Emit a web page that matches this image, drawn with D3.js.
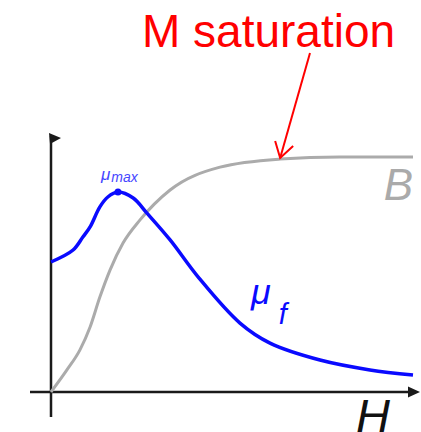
<!DOCTYPE html>
<html>
<head>
<meta charset="utf-8">
<script src="https://cdn.jsdelivr.net/npm/d3@7"></script>
<style>
  html, body { margin: 0; padding: 0; background: #fff; }
  svg { display: block; font-family: "Liberation Sans", Arial, sans-serif; }
</style>
</head>
<body>
<div id="chart"></div>
<script>
// ── Data (arbitrary units) ───────────────────────────────────────────────────
const hB   = [0, 0.44, 0.80, 1.08, 1.35, 1.63, 1.99, 2.46, 3.29, 4.67, 6.33, 7.98, 10];
const bVal = [0, 0.85, 1.62, 2.50, 3.65, 4.69, 5.73, 6.62, 7.77, 8.65, 8.96, 9.04, 9.04];

const hMu   = [0, 0.61, 0.88, 1.08, 1.35, 1.57, 1.85, 2.27, 2.65, 3.29, 4.09, 5.22, 6.05, 7.43, 8.81, 10];
const muVal = [5.0, 5.46, 5.96, 6.35, 7.12, 7.5, 7.69, 7.46, 6.88, 5.85, 4.38, 2.65, 1.88, 1.23, 0.85, 0.65];

const muMax = { h: 1.85, v: 7.69 };
const satPoint = { h: 6.33, v: 8.96 };

// ── Layout ────────────────────────────────────────────────────────────────────
const W = 421, H = 432;
const x = d3.scaleLinear().domain([0, 10]).range([51, 413]);
const y = d3.scaleLinear().domain([0, 10]).range([392, 132]);

const svg = d3.select('#chart').append('svg')
  .attr('width', W)
  .attr('height', H);

// ── Axes ──────────────────────────────────────────────────────────────────────
const axisColor = '#1a1a1a';
svg.append('line')
  .attr('x1', 30).attr('x2', 412)
  .attr('y1', y(0)).attr('y2', y(0))
  .attr('stroke', axisColor).attr('stroke-width', 2.5);
svg.append('path')
  .attr('d', `M${408},${y(0) - 5.5} L${420},${y(0)} L${408},${y(0) + 5.5} Z`)
  .attr('fill', axisColor);

svg.append('line')
  .attr('x1', x(0)).attr('x2', x(0))
  .attr('y1', 417).attr('y2', 136)
  .attr('stroke', axisColor).attr('stroke-width', 2.5);
svg.append('path')
  .attr('d', `M${x(0) - 2},${133} L${61},${138} L${x(0) - 1},${144} Z`)
  .attr('fill', axisColor);

// ── Curves ────────────────────────────────────────────────────────────────────
const lineB = d3.line()
  .x(d => x(d[0]))
  .y(d => y(d[1]))
  .curve(d3.curveMonotoneX);

const lineMu = d3.line()
  .x(d => x(d[0]))
  .y(d => y(d[1]))
  .curve(d3.curveCatmullRom.alpha(0.5));

svg.append('path')
  .datum(hB.map((h, i) => [h, bVal[i]]))
  .attr('d', lineB)
  .attr('fill', 'none')
  .attr('stroke', '#ababab')
  .attr('stroke-width', 3);

svg.append('path')
  .datum(hMu.map((h, i) => [h, muVal[i]]))
  .attr('d', lineMu)
  .attr('fill', 'none')
  .attr('stroke', '#0a0aff')
  .attr('stroke-width', 3.5);

svg.append('circle')
  .attr('cx', x(muMax.h)).attr('cy', y(muMax.v))
  .attr('r', 3.5)
  .attr('fill', '#0a0aff');

// ── Labels ────────────────────────────────────────────────────────────────────
const muMaxLabel = svg.append('text')
  .attr('x', x(muMax.h) - 17).attr('y', y(muMax.v) - 12)
  .attr('fill', '#4646ff')
  .attr('font-style', 'italic');
muMaxLabel.append('tspan').attr('font-size', 17).text('μ');
muMaxLabel.append('tspan').attr('font-size', 14).attr('dy', 2).attr('dx', 1).text('max');

const muF = svg.append('text')
  .attr('x', 251).attr('y', 304)
  .attr('fill', '#0a0aff')
  .attr('font-style', 'italic');
muF.append('tspan').attr('font-size', 36).text('μ');
muF.append('tspan').attr('font-size', 29).attr('dy', 20).attr('dx', 8).text('f');

svg.append('text')
  .attr('x', 413).attr('y', 200)
  .attr('text-anchor', 'end')
  .attr('font-size', 44)
  .attr('font-style', 'italic')
  .attr('fill', '#aaaaaa')
  .text('B');

svg.append('text')
  .attr('x', 356).attr('y', 432)
  .attr('font-size', 47)
  .attr('font-style', 'italic')
  .attr('fill', '#111')
  .text('H');

svg.append('text')
  .attr('x', 142).attr('y', 47)
  .attr('font-size', 46)
  .attr('fill', '#ff0000')
  .text('M saturation');

// ── Annotation arrow to saturation point ─────────────────────────────────────
const tipX = x(satPoint.h), tipY = y(satPoint.v) - 1;
svg.append('line')
  .attr('x1', 310).attr('y1', 53)
  .attr('x2', tipX).attr('y2', tipY)
  .attr('stroke', '#ff0000').attr('stroke-width', 2);
svg.append('path')
  .attr('d', `M${tipX - 5},${tipY - 17} L${tipX},${tipY} L${tipX + 13},${tipY - 12}`)
  .attr('fill', 'none')
  .attr('stroke', '#ff0000').attr('stroke-width', 2);
</script>
</body>
</html>
